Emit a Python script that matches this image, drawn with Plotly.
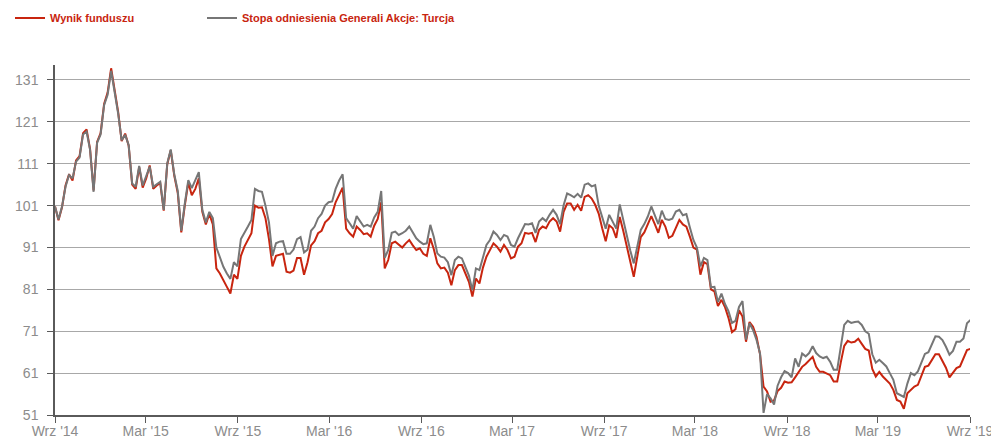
import pandas as pd
import plotly.graph_objects as go

# Weekly observation dates (Sep 2014 - Aug 2019)
dates = pd.date_range("2014-09-01", periods=262, freq="7D")

# Benchmark: Stopa odniesienia Generali Akcje: Turcja (grey)
benchmark = [
    100.8, 97.7, 100.8, 105.5, 108.3, 107.5, 111.5, 112.5, 118.0, 118.7,
    114.3, 104.3, 116.0, 118.0, 125.0, 127.5, 133.2, 128.0, 123.0, 116.6,
    117.9, 115.5, 106.3, 105.5, 110.5, 105.8, 107.9, 110.3, 105.5, 106.0,
    106.7, 100.0, 111.1, 114.4, 108.5, 104.5, 95.0, 101.5, 107.1, 105.2,
    107.0, 109.0, 100.0, 97.0, 99.5, 98.0, 91.0, 88.5, 86.4, 84.8,
    83.5, 87.5, 86.5, 93.0, 94.4, 96.0, 97.6, 105.0, 104.5, 104.3,
    101.0, 97.0, 89.0, 92.0, 92.4, 92.5, 89.5, 89.5, 90.5, 93.0,
    93.5, 89.8, 90.5, 95.0, 96.0, 98.0, 99.0, 101.0, 101.8, 102.0,
    105.0, 107.0, 108.5, 98.0, 96.8, 95.5, 98.5, 97.2, 96.0, 96.4,
    96.0, 98.2, 99.5, 104.5, 88.5, 90.4, 94.5, 94.8, 94.0, 94.4,
    95.0, 96.0, 94.5, 93.2, 92.4, 91.8, 92.0, 96.4, 93.5, 89.6,
    88.8, 88.6, 87.5, 84.4, 88.0, 88.8, 88.4, 86.4, 84.3, 80.8,
    86.0, 85.6, 88.5, 91.6, 92.8, 94.8, 94.0, 92.8, 94.0, 93.6,
    91.6, 91.2, 93.2, 94.8, 96.6, 96.5, 96.8, 94.5, 97.2, 98.0,
    97.3, 98.8, 100.0, 98.8, 96.6, 101.1, 103.9, 103.5, 103.0, 103.8,
    102.9, 106.0, 106.3, 105.6, 105.9, 101.0, 98.0, 95.5, 98.8, 97.2,
    95.5, 101.3, 97.5, 93.8, 90.3, 87.2, 91.2, 95.2, 96.6, 98.4,
    100.8, 98.6, 96.6, 99.8, 97.8, 97.6, 97.9, 99.6, 100.0, 98.7,
    99.0, 95.8, 92.8, 91.0, 86.5, 88.5, 88.0, 81.5, 81.6, 78.0,
    80.0, 77.5, 75.8, 73.0, 73.5, 76.8, 78.2, 69.0, 72.9, 71.3,
    68.9, 65.7, 51.5, 56.0, 55.0, 53.5, 58.0, 60.0, 61.5, 61.0,
    60.0, 64.5, 62.5, 65.7, 65.0, 65.8, 67.4, 65.8, 65.0, 64.6,
    64.9, 63.7, 61.8, 61.8, 66.7, 72.5, 73.5, 73.0, 73.2, 73.3,
    72.5, 71.0, 70.4, 65.5, 63.5, 64.2, 63.4, 62.6, 61.0, 59.4,
    56.2, 55.7, 55.3, 58.5, 61.0, 60.5, 61.4, 63.5, 65.6, 66.0,
    68.0, 69.8, 69.7, 68.9, 67.3, 65.4, 66.3, 68.5, 68.5, 69.3,
    72.9, 73.7,
]

# Fund result: Wynik funduszu (red)
fund = [
    100.8, 97.5, 100.6, 105.8, 108.5, 107.0, 111.8, 112.8, 118.3, 119.2,
    114.5, 104.6, 116.2, 118.3, 125.3, 128.0, 133.8, 128.2, 123.4, 116.4,
    118.2, 115.3, 106.0, 105.0, 110.2, 105.3, 107.5, 110.6, 105.0, 105.8,
    106.4, 99.8, 110.9, 114.2, 108.2, 104.0, 94.6, 101.0, 106.5, 103.5,
    105.0, 107.5, 99.5, 96.5, 99.0, 96.5, 86.0, 84.8, 83.0, 81.6,
    80.0, 84.5, 83.5, 89.0, 91.2, 93.0, 94.4, 101.0, 100.5, 100.6,
    98.0, 93.0, 86.5, 89.0, 89.2, 89.5, 85.2, 85.0, 85.5, 88.5,
    88.5, 84.5, 87.5, 91.5, 92.5, 94.4, 95.0, 97.0, 97.8, 99.0,
    101.8, 103.7, 105.3, 95.5, 94.4, 93.6, 96.0, 95.2, 94.2, 94.4,
    93.6, 96.2, 97.8, 101.8, 86.0, 88.0, 92.0, 92.4, 91.6, 91.0,
    92.0, 92.8, 91.5, 90.4, 90.8, 89.5, 89.0, 93.2, 90.6, 87.2,
    86.0, 86.2, 85.0, 82.0, 85.6, 86.8, 86.8, 84.8, 82.8, 79.3,
    83.6, 82.4, 86.2, 88.8, 90.4, 92.0, 91.2, 90.0, 91.6, 90.4,
    88.4, 88.8, 91.2, 92.0, 94.5, 94.3, 94.5, 92.3, 95.2, 96.0,
    95.6, 97.2, 98.0, 97.2, 94.8, 99.5, 101.5, 101.5, 100.0, 101.2,
    99.8, 103.1, 103.5, 102.7, 101.2, 99.1, 95.6, 92.5, 96.3, 95.6,
    93.3, 98.3, 95.0, 91.5, 88.0, 84.0, 88.8, 93.5, 94.6, 96.8,
    98.5, 96.6, 94.5, 97.6, 96.0, 93.3, 93.8, 95.7, 97.6, 96.5,
    96.0, 93.6, 91.0, 90.5, 84.5, 87.5, 87.0, 81.0, 80.5, 77.0,
    78.5, 76.8, 74.2, 70.8, 71.5, 76.0, 74.5, 68.5, 73.2, 72.1,
    69.7, 65.5, 57.8, 56.6, 54.2, 54.5, 56.7, 57.5, 59.0, 58.7,
    58.8, 60.0, 61.2, 62.5, 63.2, 64.0, 64.9, 62.5, 61.3, 61.3,
    60.9, 60.5, 59.0, 59.0, 63.5, 67.5, 68.7, 68.3, 68.5, 69.2,
    68.0, 66.8, 66.4, 62.0, 60.2, 61.3, 60.2, 59.4, 58.5, 57.0,
    54.6, 54.2, 52.5, 56.2, 57.0, 57.8, 58.2, 60.5, 62.5, 62.8,
    64.3, 65.5, 65.5, 64.0, 62.3, 60.0, 61.2, 62.2, 62.6, 64.5,
    66.5, 66.8,
]

tick_dates = ["2014-09-01", "2015-03-01", "2015-09-01", "2016-03-01", "2016-09-01",
              "2017-03-01", "2017-09-01", "2018-03-01", "2018-09-01", "2019-03-01",
              "2019-09-01"]
tick_labels = ["Wrz '14", "Mar '15", "Wrz '15", "Mar '16", "Wrz '16", "Mar '17",
               "Wrz '17", "Mar '18", "Wrz '18", "Mar '19", "Wrz '19"]
y_ticks = [51, 61, 71, 81, 91, 101, 111, 121, 131]

RED = "#c8250f"
GREY = "#767676"
AXIS = "#5a5a5a"
GRID = "#a8a8a8"
LABEL = "#8c8c8c"

# The page places the figure 8px in from the top-left corner of the window,
# so the figure is 8px smaller than the 999x439 window.
FIG_W, FIG_H = 991, 431

LEGEND_FONT = dict(family="Liberation Sans, Arial, sans-serif",
                   size=11, color=RED, weight="bold")

fig = go.Figure()
fig.add_trace(go.Scatter(x=dates, y=fund, mode="lines", name="Wynik funduszu",
                         line=dict(color=RED, width=2), legend="legend"))
fig.add_trace(go.Scatter(x=dates, y=benchmark, mode="lines",
                         name="Stopa odniesienia Generali Akcje: Turcja",
                         line=dict(color=GREY, width=2), legend="legend2"))

legend_common = dict(orientation="h", xanchor="left", yanchor="middle",
                     xref="container", yref="container", y=1 - 10 / FIG_H,
                     font=LEGEND_FONT, bgcolor="rgba(0,0,0,0)", borderwidth=0,
                     itemclick=False, itemdoubleclick=False)

fig.update_layout(
    width=FIG_W, height=FIG_H,
    margin=dict(l=47, r=29, t=57, b=24, autoexpand=False),
    paper_bgcolor="white", plot_bgcolor="white",
    font=dict(family="Liberation Sans, Arial, sans-serif", size=14, color=LABEL),
    showlegend=True,
    legend=dict(x=2 / FIG_W, **legend_common),
    legend2=dict(x=194 / FIG_W, **legend_common),
    xaxis=dict(
        type="date", range=["2014-09-01", "2019-09-01"],
        tickvals=tick_dates, ticktext=tick_labels,
        showgrid=False, zeroline=False,
        showline=True, linecolor=AXIS, linewidth=1.5,
        ticks="outside", ticklen=6, tickcolor=AXIS, tickwidth=1,
        ticklabelstandoff=-4,
        tickfont=dict(size=14, color=LABEL),
    ),
    yaxis=dict(
        range=[51, 134.58], tickvals=y_ticks,
        showgrid=True, gridcolor=GRID, gridwidth=1, zeroline=False,
        showline=True, linecolor=AXIS, linewidth=1.5,
        ticks="outside", ticklen=6, tickcolor=AXIS, tickwidth=1,
        ticklabelstandoff=6,
        tickfont=dict(size=14, color=LABEL),
    ),
)

fig.write_html("out.html")
